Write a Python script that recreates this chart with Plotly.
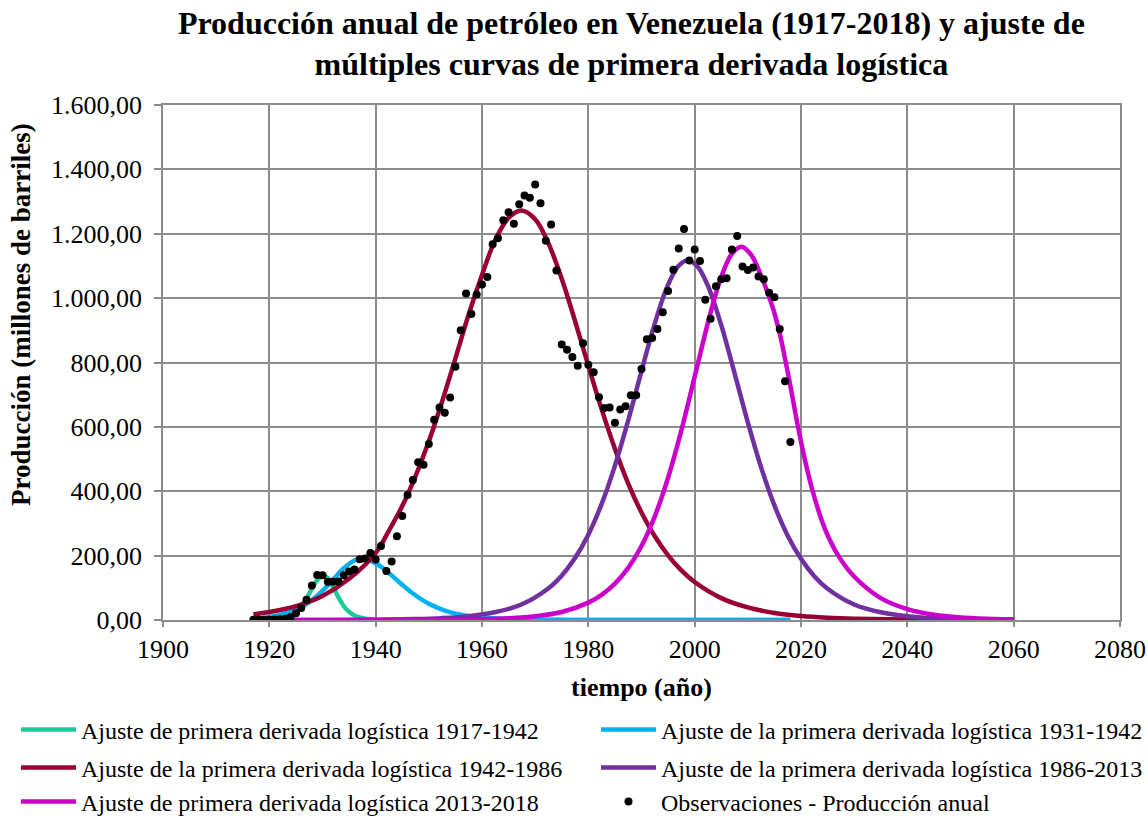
import plotly.graph_objects as go

# Annual oil production, Venezuela (millions of barrels)
obs_years = list(range(1917, 2019))
obs_prod = [
    0.5, 0.5, 0.5, 0.5, 1.4, 2.2, 4.2, 9, 21, 37,
    63, 107, 140, 139, 119, 119, 120, 139, 151, 157,
    189, 191, 208, 188, 230, 152, 182, 260, 323, 388,
    435, 490, 482, 547, 622, 660, 644, 691, 787, 900,
    1014, 951, 1011, 1042, 1066, 1167, 1186, 1242, 1267, 1231,
    1292, 1319, 1312, 1353, 1295, 1178, 1229, 1086, 856, 840,
    817, 790, 860, 793, 770, 692, 659, 660, 613, 654,
    664, 698, 698, 780, 872, 876, 904, 956, 1022, 1088,
    1154, 1215, 1117, 1151, 1115, 995, 936, 1037, 1059, 1062,
    1151, 1193, 1098, 1087, 1095, 1067, 1059, 1017, 1003, 904,
    742, 553,
]

# Fitted first-derivative logistic curves (year, value)
fit1_years = [1917, 1920, 1922, 1924, 1925, 1926, 1927, 1928, 1929, 1930.2,
              1931, 1932, 1933, 1934, 1935, 1936, 1937, 1938, 1940, 1945,
              1950, 1960, 1980, 2000, 2018]
fit1_vals = [0.3, 1.8, 5.5, 16.2, 27, 43.8, 67.6, 96.5, 123.6, 138,
             129.9, 102.5, 70, 43.4, 25.6, 14.4, 7.9, 4.3, 1.3, 0.05,
             0, 0, 0, 0, 0]

fit2_years = [1917, 1920, 1925, 1928, 1930, 1932, 1934, 1936, 1937.3, 1939,
              1941, 1943, 1945, 1947, 1950, 1953, 1956, 1960, 1965, 1970,
              1975, 1980, 1990, 2000, 2018]
fit2_vals = [4.7, 9.8, 32, 61.7, 90.9, 126, 161, 185, 190, 184.5,
             165.8, 138.7, 109.4, 82.3, 50.4, 29.4, 16.6, 7.6, 2.8, 1.0,
             0.4, 0.1, 0, 0, 0]

fit3_years = [1917, 1920, 1925, 1930, 1935, 1940, 1942.5, 1945, 1947.5, 1950,
              1952.5, 1955, 1957.5, 1960, 1962.5, 1965, 1967.4, 1970, 1972.5, 1975,
              1977.5, 1980, 1982.5, 1985, 1987.5, 1990, 1992.5, 1995, 1997.5, 2000,
              2005, 2010, 2015, 2020, 2025, 2030, 2040, 2050, 2060]
fit3_vals = [17.9, 24.9, 43.4, 74.9, 128, 208, 278, 354, 447, 555,
             679, 813, 950, 1072, 1181, 1249, 1272, 1245, 1170, 1060,
             929, 790, 655, 532, 424, 334, 260, 201, 154, 118,
             68, 39, 22, 12.6, 7.2, 4, 1.3, 0.4, 0.13]

fit4_years = [1917, 1930, 1937.4, 1942.4, 1947.4, 1952.4, 1957.4, 1962.4, 1967.4, 1972.4,
              1974.9, 1977.4, 1979.9, 1982.4, 1984.9, 1987.4, 1989.9, 1992.4, 1994.9, 1996.9,
              1998.7, 2000.5, 2002.5, 2005, 2007.5, 2010, 2012.5, 2015, 2017.5, 2020,
              2022.5, 2025, 2030, 2035, 2040, 2045, 2050, 2055, 2060]
fit4_vals = [0.05, 0.25, 0.7, 1.4, 2.8, 5.7, 11.6, 24, 48, 97,
             136, 190, 262, 356, 474, 614, 767, 916, 1038, 1099,
             1118, 1099, 1038, 916, 767, 614, 474, 356, 262, 190,
             136, 97, 48, 24, 11.6, 5.7, 2.8, 1.4, 0.7]

fit5_years = [1917, 1940, 1950, 1960, 1965, 1970, 1975, 1980, 1982.5, 1985,
              1987.5, 1990, 1992.5, 1995, 1997.5, 2000, 2003, 2005, 2007, 2008.8,
              2010.6, 2012.6, 2014.7, 2016, 2017.2, 2018.2, 2019.2, 2020.7, 2022.2, 2024.5,
              2027, 2030, 2035, 2040, 2045, 2050, 2055, 2060]
fit5_vals = [0, 0.11, 0.5, 2.5, 5.4, 11.7, 25, 54, 78, 113,
             162, 230, 322, 442, 589, 756, 956, 1066, 1138, 1160,
             1135, 1065, 970, 890, 795, 710, 620, 500, 400, 283,
             200, 135, 68, 34, 16.5, 8, 4, 2]

# (name, years, values, colour, legend slot)
fits = [
    ("Ajuste de primera derivada logística 1917-1942", fit1_years, fit1_vals, "#1FC99A", "legend"),
    ("Ajuste de la primera derivada logística 1931-1942", fit2_years, fit2_vals, "#00B0F0", "legend2"),
    ("Ajuste de la primera derivada logística 1942-1986", fit3_years, fit3_vals, "#990033", "legend3"),
    ("Ajuste de la primera derivada logística 1986-2013", fit4_years, fit4_vals, "#7030A0", "legend4"),
    ("Ajuste de primera derivada logística 2013-2018", fit5_years, fit5_vals, "#CC00CC", "legend5"),
]

SERIF = "Liberation Serif, Times New Roman, serif"
GRID = "#8C8C8C"
W, H = 1148, 817

fig = go.Figure()
for name, xs, ys, color, leg in fits:
    fig.add_trace(go.Scatter(
        x=xs, y=ys, name=name, mode="lines",
        line=dict(color=color, width=4.5, shape="spline", smoothing=1),
        legend=leg,
    ))

fig.add_trace(go.Scatter(
    x=obs_years, y=obs_prod, name="Observaciones - Producción anual",
    mode="markers", marker=dict(color="black", size=8),
    legend="legend6",
))


def legend_at(px_x, px_y):
    """One-entry legend placed at a pixel position of the page."""
    return dict(
        orientation="h", xref="container", yref="container",
        xanchor="left", yanchor="middle", x=px_x / W, y=1 - px_y / H,
        font=dict(family=SERIF, size=24, color="black"),
        bgcolor="rgba(0,0,0,0)", itemwidth=55,
    )


col1, col2 = 16, 596
rows = [730, 768, 802]

fig.update_layout(
    width=W, height=H,
    margin=dict(l=163, r=28, t=105, b=197),
    paper_bgcolor="white", plot_bgcolor="white",
    separators=",.",
    title=dict(
        text="<b>Producción anual de petróleo en Venezuela (1917-2018) y ajuste de<br>"
             "múltiples curvas de primera derivada logística</b>",
        font=dict(family=SERIF, size=32, color="black"),
        x=0.55, xanchor="center", y=0.9586, yanchor="middle",
    ),
    xaxis=dict(
        range=[1900, 2080], dtick=20, tick0=1900, tickformat="d",
        showgrid=True, gridcolor=GRID, gridwidth=1.5,
        showline=True, linecolor=GRID, linewidth=1.5, mirror=True,
        ticks="outside", ticklen=5, tickcolor=GRID, tickwidth=1.5,
        zeroline=False, automargin=False,
        tickfont=dict(family=SERIF, size=26, color="black"),
        title=dict(text="<b>tiempo (año)</b>", font=dict(family=SERIF, size=26, color="black"), standoff=15),
    ),
    yaxis=dict(
        range=[0, 1600], dtick=200, tickformat=",.2f",
        showgrid=True, gridcolor=GRID, gridwidth=1.5,
        showline=True, linecolor=GRID, linewidth=1.5, mirror=True,
        ticks="outside", ticklen=7, tickcolor=GRID, tickwidth=1.5,
        zeroline=False, automargin=False, ticklabelstandoff=7,
        tickfont=dict(family=SERIF, size=26, color="black"),
    ),
    annotations=[dict(
        text="<b>Producción (millones de barriles)</b>",
        textangle=-90, showarrow=False,
        xref="paper", yref="paper",
        x=(21 - 163) / (W - 163 - 28), y=(620 - 315) / (620 - 105),
        xanchor="center", yanchor="middle",
        font=dict(family=SERIF, size=27, color="black"),
    )],
    legend=legend_at(col1, rows[0]),
    legend2=legend_at(col2, rows[0]),
    legend3=legend_at(col1, rows[1]),
    legend4=legend_at(col2, rows[1]),
    legend5=legend_at(col1, rows[2]),
    legend6=legend_at(col2, rows[2]),
    showlegend=True,
)

fig.write_html("out.html")
